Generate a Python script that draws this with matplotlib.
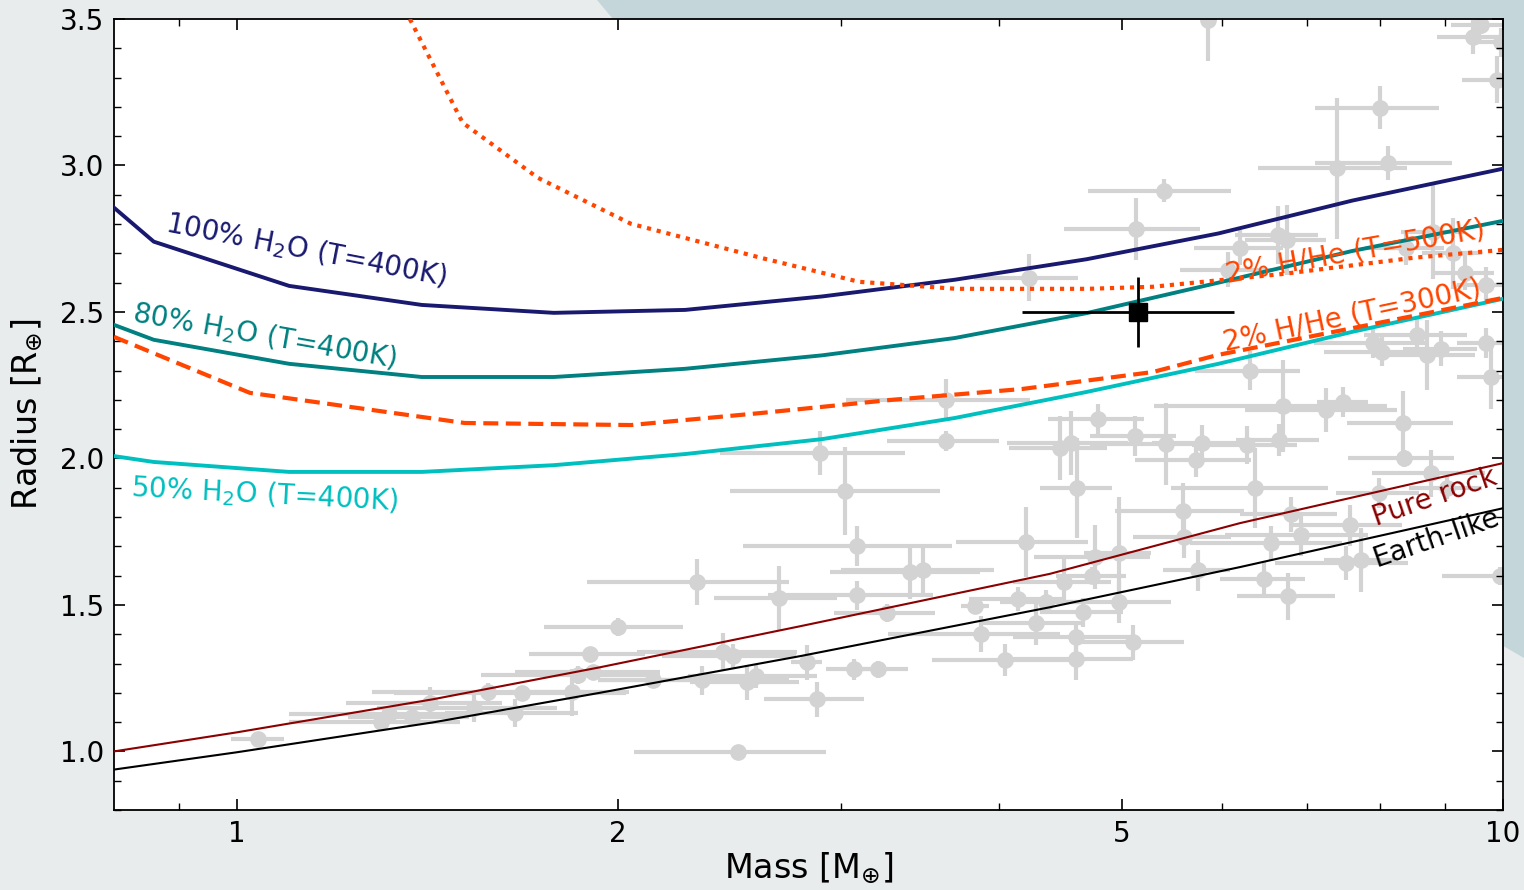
import matplotlib
matplotlib.use('Agg')
import matplotlib.pyplot as plt
from matplotlib.patches import Polygon

# known small planets (mass, radius and their uncertainties)
known_mass = [1.04, 1.30, 1.32, 1.375, 1.42, 1.54, 1.58, 1.66, 1.68, 1.84,
              1.86, 1.91, 1.90, 2.00, 2.13, 2.31, 2.33, 2.42, 2.465, 2.53,
              2.57, 2.68, 2.82, 2.87, 2.49, 2.89, 3.02, 3.09, 3.09, 3.26,
              3.07, 3.21, 3.40, 3.48, 3.63, 3.63, 3.83, 3.87, 4.04, 4.14,
              4.20, 4.22, 4.28, 4.36, 4.47, 4.56, 4.50, 4.60, 4.60, 4.61,
              4.66, 4.74, 4.76, 4.79, 4.97, 4.97, 5.10, 5.12, 5.13, 5.40,
              5.42, 5.59, 5.60, 5.72, 5.74, 5.78, 5.85, 6.06, 6.20, 6.28,
              6.31, 6.37, 6.48, 6.56, 6.64, 6.65, 6.70, 6.75, 6.77, 6.80,
              6.93, 7.25, 7.40, 7.48, 7.51, 7.57, 7.72, 7.89, 8.00, 8.02,
              8.11, 7.98, 8.33, 8.35, 8.38, 8.56, 8.71, 8.78, 8.81, 8.93,
              9.03, 9.13, 9.33, 9.47, 9.60, 9.70, 9.70, 9.79, 9.89, 9.97, 9.95]
known_radius = [1.044, 1.099, 1.126, 1.116, 1.164, 1.147, 1.202, 1.130, 1.198, 1.202,
                1.260, 1.270, 1.332, 1.424, 1.243, 1.578, 1.243, 1.338, 1.325, 1.236,
                1.256, 1.523, 1.304, 1.178, 0.997, 2.018, 1.889, 1.700, 1.533, 1.472,
                1.280, 1.280, 1.612, 1.619, 2.200, 2.060, 1.496, 1.400, 1.311, 1.520,
                1.714, 2.617, 1.440, 1.510, 2.035, 2.052, 1.578, 1.390, 1.314, 1.899,
                1.475, 1.600, 1.663, 2.135, 1.677, 1.510, 1.373, 2.077, 2.784, 2.914,
                2.050, 1.820, 1.731, 1.995, 1.619, 2.053, 3.497, 2.644, 2.720, 2.046,
                2.300, 1.900, 1.590, 1.711, 2.763, 2.063, 2.180, 2.746, 1.530, 1.810,
                1.738, 2.165, 2.990, 2.193, 1.643, 1.772, 1.653, 2.394, 3.197, 2.364,
                3.010, 1.882, 2.120, 2.000, 2.720, 2.420, 2.353, 1.950, 2.774, 2.374,
                1.900, 2.700, 2.634, 3.440, 3.480, 2.593, 2.394, 2.278, 3.293, 3.420, 1.598]
known_mass_err = [0.05, 0.20, 0.22, 0.15, 0.20, 0.25, 0.30, 0.20, 0.35, 0.20,
                  0.30, 0.25, 0.20, 0.25, 0.20, 0.42, 0.40, 0.35, 0.30, 0.25,
                  0.30, 0.30, 0.08, 0.26, 0.43, 0.48, 0.57, 0.58, 0.46, 0.30,
                  0.15, 0.18, 0.46, 0.48, 0.60, 0.37, 0.10, 0.60, 0.50, 0.35,
                  0.50, 0.40, 0.40, 0.35, 0.40, 0.50, 0.40, 0.50, 0.50, 0.30,
                  0.35, 0.30, 0.50, 0.42, 0.30, 0.50, 0.50, 0.40, 0.63, 0.70,
                  0.70, 0.65, 0.50, 0.60, 0.35, 0.50, 0.00, 0.50, 0.50, 0.60,
                  0.60, 0.90, 0.50, 0.90, 0.50, 0.50, 1.40, 0.50, 0.60, 0.60,
                  0.90, 1.00, 1.00, 0.35, 0.90, 0.75, 0.50, 0.80, 0.90, 0.80,
                  1.00, 0.60, 0.80, 0.80, 0.60, 0.80, 0.80, 0.90, 0.50, 0.60,
                  0.60, 0.50, 0.50, 0.60, 0.50, 0.50, 0.50, 0.60, 0.60, 0.50, 1.00]
known_radius_err = [0.0, 0.02, 0.03, 0.02, 0.055, 0.045, 0.03, 0.048, 0.02, 0.08,
                    0.03, 0.02, 0.02, 0.03, 0.02, 0.078, 0.05, 0.065, 0.04, 0.06,
                    0.04, 0.11, 0.06, 0.06, 0.0, 0.074, 0.149, 0.068, 0.05, 0.03,
                    0.037, 0.03, 0.092, 0.082, 0.07, 0.035, 0.02, 0.062, 0.055, 0.04,
                    0.12, 0.08, 0.078, 0.04, 0.11, 0.11, 0.078, 0.05, 0.07, 0.17,
                    0.05, 0.03, 0.11, 0.05, 0.19, 0.07, 0.06, 0.068, 0.106, 0.04,
                    0.14, 0.095, 0.07, 0.06, 0.07, 0.06, 0.14, 0.06, 0.06, 0.065,
                    0.068, 0.137, 0.058, 0.06, 0.10, 0.055, 0.157, 0.12, 0.08, 0.06,
                    0.07, 0.075, 0.24, 0.05, 0.058, 0.07, 0.11, 0.05, 0.074, 0.05,
                    0.058, 0.05, 0.11, 0.03, 0.06, 0.06, 0.12, 0.08, 0.16, 0.06,
                    0.04, 0.12, 0.06, 0.058, 0.03, 0.06, 0.05, 0.11, 0.08, 0.05, 0.03]

# our planet
planet_mass = 5.15
planet_mass_err = 0.98
planet_radius = 2.50
planet_radius_err = 0.118

# water world models (T=400K)
water_mass = [0.80, 0.86, 1.10, 1.40, 1.78, 2.26, 2.90, 3.69, 4.69, 5.96, 7.60, 10.0]
water100_radius = [2.856, 2.740, 2.589, 2.524, 2.497, 2.507, 2.553, 2.610, 2.680, 2.768, 2.880, 2.989]
water80_radius = [2.456, 2.405, 2.323, 2.278, 2.278, 2.306, 2.352, 2.411, 2.496, 2.600, 2.708, 2.811]
water50_radius = [2.008, 1.988, 1.954, 1.954, 1.977, 2.015, 2.066, 2.138, 2.227, 2.323, 2.432, 2.545]

# 2% H/He envelope models
hhe300_mass = [0.80, 1.024, 1.514, 2.048, 2.593, 3.29, 4.17, 5.29, 5.95, 7.55, 10.0]
hhe300_radius = [2.415, 2.224, 2.121, 2.114, 2.155, 2.200, 2.237, 2.295, 2.353, 2.442, 2.548]
hhe500_mass = [1.37, 1.508, 1.729, 2.048, 2.593, 3.10, 3.70, 4.70, 5.29, 6.71, 8.50, 10.0]
hhe500_radius = [3.50, 3.146, 2.958, 2.801, 2.685, 2.603, 2.579, 2.579, 2.586, 2.630, 2.685, 2.712]

# rocky compositions
rock_mass = [0.80, 1.00, 1.429, 1.935, 2.784, 4.386, 6.196, 10.0]
pure_rock_radius = [1.000, 1.065, 1.178, 1.287, 1.427, 1.606, 1.779, 1.984]
earth_like_radius = [0.938, 0.997, 1.099, 1.200, 1.325, 1.492, 1.629, 1.830]

x_ticks = [1, 2, 5, 10]
x_tick_labels = ['1', '2', '5', '10']
x_minor_ticks = [0.9, 3, 4, 6, 7, 8, 9]

# Define plot
fig = plt.figure(figsize=(15.24, 8.9), dpi=100, facecolor='#e8ecec')
fig.add_artist(Polygon([(597 / 1524, 1), (1, 1), (1, 1 - 658 / 890),
                        (1300 / 1524, 1 - 528 / 890), (765 / 1524, 1 - 200 / 890)],
                       closed=True, transform=fig.transFigure,
                       facecolor='#c5d6da', edgecolor='none', zorder=-1))

ax = fig.add_axes([114 / 1524, 1 - 810 / 890, 1389 / 1524, 791 / 890])
ax.set_facecolor('white')

ax.errorbar(known_mass, known_radius, xerr=known_mass_err, yerr=known_radius_err,
            fmt='o', color='lightgray', ms=11, elinewidth=3, capsize=0, zorder=1)

ax.plot(water_mass, water100_radius, color='midnightblue', lw=2.8, zorder=3)
ax.plot(water_mass, water80_radius, color='teal', lw=2.8, zorder=3)
ax.plot(water_mass, water50_radius, color='#00bfbf', lw=2.8, zorder=3)
ax.plot(hhe300_mass, hhe300_radius, color='orangered', lw=3, ls=(0, (3.6, 1.8)), zorder=3)
ax.plot(hhe500_mass, hhe500_radius, color='orangered', lw=3, ls=(0, (1, 1.4)), zorder=3)
ax.plot(rock_mass, pure_rock_radius, color='darkred', lw=1.5, zorder=3)
ax.plot(rock_mass, earth_like_radius, color='black', lw=1.5, zorder=3)

ax.errorbar(planet_mass, planet_radius, xerr=planet_mass_err, yerr=planet_radius_err,
            fmt='s', color='black', ms=13, elinewidth=2, capsize=0, zorder=5)

# curve labels
label_kw = dict(fontsize=20, ha='center', va='center', rotation_mode='anchor')
ax.text(1.134, 2.712, r'100% H$_2$O (T=400K)', color='midnightblue', rotation=-11, **label_kw)
ax.text(1.052, 2.418, r'80% H$_2$O (T=400K)', color='teal', rotation=-10, **label_kw)
ax.text(1.052, 1.875, r'50% H$_2$O (T=400K)', color='#00bfbf', rotation=-3, **label_kw)
ax.text(7.65, 2.705, '2% H/He (T=500K)', color='orangered', rotation=10, **label_kw)
ax.text(7.60, 2.487, '2% H/He (T=300K)', color='orangered', rotation=12, **label_kw)
ax.text(8.83, 1.868, 'Pure rock', color='darkred', rotation=19, **label_kw)
ax.text(8.85, 1.728, 'Earth-like', color='black', rotation=19, **label_kw)

ax.set_xscale('log')
ax.set_xlim(0.8, 10)
ax.set_ylim(0.8, 3.5)
ax.set_xticks(x_ticks)
ax.set_xticklabels(x_tick_labels)
ax.set_xticks(x_minor_ticks, minor=True)
ax.set_xticklabels([], minor=True)
ax.set_yticks([1.0, 1.5, 2.0, 2.5, 3.0, 3.5])
ax.set_yticklabels(['1.0', '1.5', '2.0', '2.5', '3.0', '3.5'])
ax.set_yticks([0.8 + 0.1 * i for i in range(28)], minor=True)

ax.tick_params(which='both', direction='in', top=True, right=True, labelsize=20, pad=7)
ax.tick_params(which='major', length=8, width=1.2)
ax.tick_params(which='minor', length=5, width=1.0)
for spine in ax.spines.values():
    spine.set_linewidth(1.3)

ax.set_xlabel(r'Mass [M$_{\oplus}$]', fontsize=24)
ax.set_ylabel(r'Radius [R$_{\oplus}$]', fontsize=24)
ax.xaxis.set_label_coords(0.5, -0.052)
ax.yaxis.set_label_coords(-0.05, 0.5)

fig.savefig('out.png', dpi=100, facecolor=fig.get_facecolor())
plt.close(fig)
